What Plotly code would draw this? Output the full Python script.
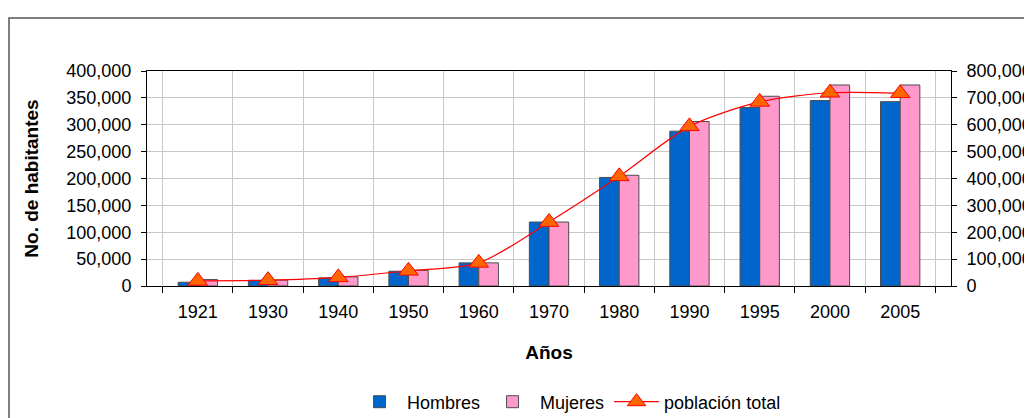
import plotly.graph_objects as go

years = ["1921", "1930", "1940", "1950", "1960", "1970", "1980", "1990", "1995", "2000", "2005"]
hombres = [7000, 10500, 15000, 27500, 43000, 119000, 202000, 288000, 332000, 345000, 343000]
mujeres = [12000, 11000, 17000, 29000, 43000, 119000, 206000, 306000, 353000, 374000, 374000]
total = [19000, 21500, 32000, 56500, 86000, 238000, 408000, 594000, 685000, 719000, 717000]

left_ticks = [0, 50000, 100000, 150000, 200000, 250000, 300000, 350000, 400000]
right_ticks = [0, 100000, 200000, 300000, 400000, 500000, 600000, 700000, 800000]

FONT = "Liberation Sans, Arial, sans-serif"

# page is offset by the browser's default 8px body margin
W, H = 1024, 410
L, R, T, B = 139, 81, 63, 132
PW, PH = W - L - R, H - T - B

fig = go.Figure()
fig.add_trace(go.Bar(x=years, y=hombres, name="Hombres",
                     marker=dict(color="#0066CC", line=dict(color="#4d4d4d", width=1))))
fig.add_trace(go.Bar(x=years, y=mujeres, name="Mujeres",
                     marker=dict(color="#FF99CC", line=dict(color="#4d4d4d", width=1))))
fig.add_trace(go.Scatter(x=years, y=total, name="población total", yaxis="y2",
                         mode="lines+markers",
                         line=dict(color="#FF0000", width=1.2, shape="spline", smoothing=0.8),
                         marker=dict(symbol="triangle-up", size=17, color="#FF6600",
                                     line=dict(color="#FF0000", width=1))))

fig.update_layout(
    width=W, height=H,
    margin=dict(l=L, r=R, t=T, b=B, autoexpand=False),
    paper_bgcolor="white", plot_bgcolor="white",
    font=dict(family=FONT, size=18, color="#000000"),
    barmode="group", bargap=0.44, bargroupgap=0,
    showlegend=True,
    legend=dict(orientation="h", xref="container", yref="container",
                x=344 / W, xanchor="left", y=16 / H, yanchor="middle",
                font=dict(size=18), itemwidth=45, traceorder="normal"),
    xaxis=dict(type="category", tickson="boundaries", showgrid=True, gridcolor="#C8C8C8",
               gridwidth=1, showline=True, linecolor="#000000", linewidth=1, mirror=True,
               ticks="outside", ticklen=6, tickcolor="#000000", ticklabelstandoff=9,
               title=dict(text="<b>Años</b>", font=dict(size=19), standoff=25)),
    yaxis=dict(range=[0, 400000], tickvals=left_ticks, tickformat=",d",
               showgrid=True, gridcolor="#C8C8C8", gridwidth=1,
               showline=True, linecolor="#000000", linewidth=1,
               ticks="outside", ticklen=5, tickcolor="#000000", ticklabelstandoff=6,
               zeroline=False,
               title=dict(text="<b>No. de habitantes</b>", font=dict(size=19), standoff=22)),
    yaxis2=dict(range=[0, 800000], tickvals=right_ticks, tickformat=",d",
                overlaying="y", side="right", showgrid=False,
                showline=True, linecolor="#000000", linewidth=1,
                ticks="outside", ticklen=5, tickcolor="#000000", ticklabelstandoff=6,
                zeroline=False),
    shapes=[dict(type="rect", xref="paper", yref="paper",
                 x0=(1 - L) / PW, x1=1.2, y0=-1.0, y1=(PH + T - 10) / PH,
                 line=dict(color="#555555", width=1.5), fillcolor="rgba(0,0,0,0)", layer="below")],
)

fig.write_html("out.html")
